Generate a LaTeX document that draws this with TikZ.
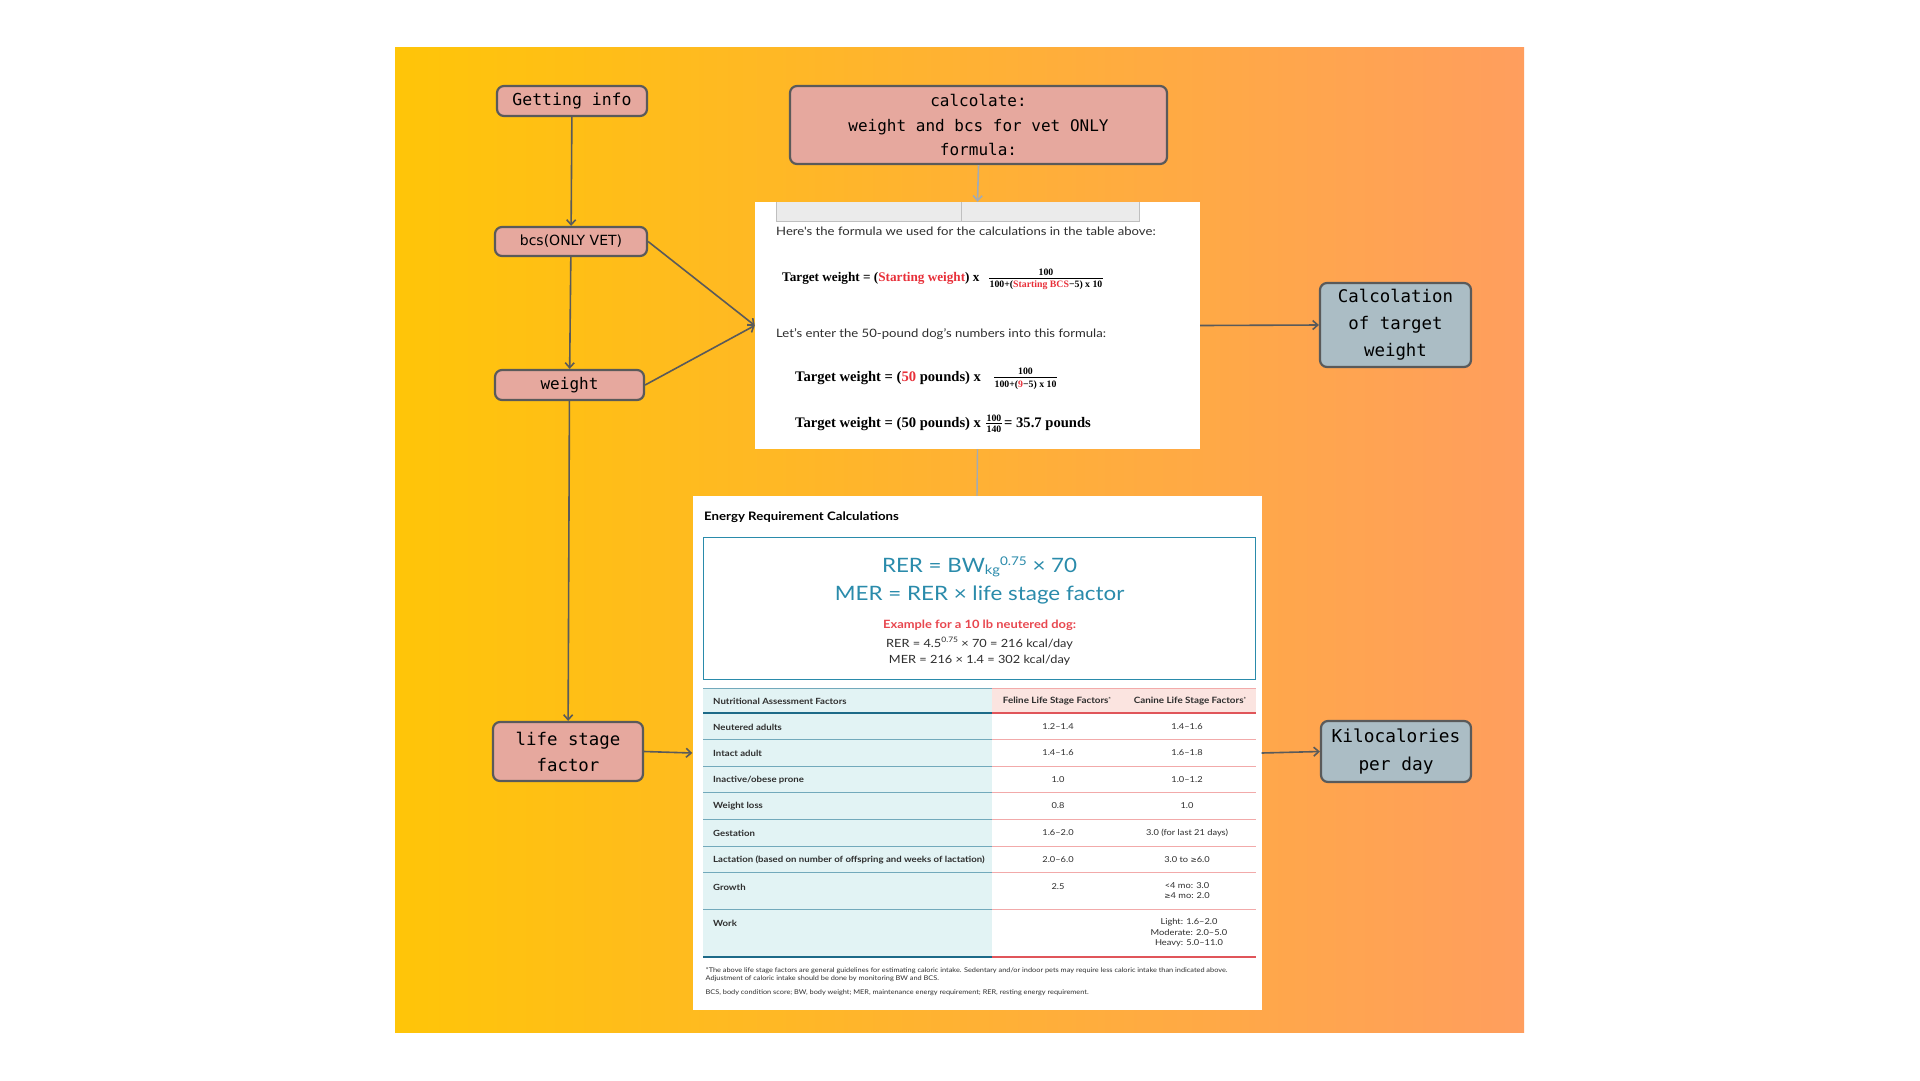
\documentclass[tikz,border=0pt]{standalone}
\usepackage{fontspec}
\usetikzlibrary{arrows.meta}
\newfontfamily\monoW{DejaVu Sans Mono}
\newfontfamily\dvs{DejaVu Sans}
\newfontfamily\lato[FakeStretch=1.13]{Lato}
\newfontfamily\lserif{Liberation Serif}
\definecolor{bgL}{HTML}{FFC508}
\definecolor{bgR}{HTML}{FF9E5E}
\definecolor{pinkF}{HTML}{E6A89E}
\definecolor{blueF}{HTML}{ABBDC5}
\definecolor{edgeC}{HTML}{5A5A5A}
\definecolor{fred}{HTML}{E8303A}
\definecolor{tealC}{HTML}{2A8BAB}
\definecolor{exred}{HTML}{E8474F}
\definecolor{txtC}{HTML}{2E2E2E}
\definecolor{greyC}{HTML}{A3ABB4}
\definecolor{cyanF}{HTML}{E2F3F4}
\definecolor{pinkH}{HTML}{FBE4E0}
\definecolor{tdark}{HTML}{1D6A88}
\definecolor{tlight}{HTML}{72A9BB}
\definecolor{rdark}{HTML}{E0555A}
\definecolor{rlight}{HTML}{F2AAAA}
\tikzset{
  pinkbox/.style={draw=edgeC, line width=2.2pt, fill=pinkF, rounded corners=7pt, inner sep=0pt, align=center},
  bluebox/.style={pinkbox, fill=blueF},
  conn/.style={draw=edgeC, line width=1.6pt, -{Straight Barb[length=5pt,width=9pt]}},
  greyconn/.style={draw=greyC, line width=1.6pt, -{Straight Barb[length=5pt,width=9pt]}},
  greyline/.style={draw=greyC, line width=1.4pt},
  panel/.style={fill=white, draw=none, inner sep=0pt},
  ptxt/.style={inner sep=0pt, text=txtC, font=\lato\fontsize{11.6}{13}\selectfont},
  fsr/.style={inner sep=0pt, text=black, font=\lserif\bfseries\fontsize{13.2}{15}\selectfont},
  fsr2/.style={inner sep=0pt, text=black, font=\lserif\bfseries\fontsize{14.6}{16}\selectfont},
  fsm/.style={inner sep=0pt, text=black, font=\lserif\bfseries\fontsize{9.8}{10}\selectfont},
  tlab/.style={inner sep=0pt, anchor=west, text=txtC, font=\lato\bfseries\fontsize{8.5}{9.5}\selectfont},
  tval/.style={inner sep=0pt, text=txtC, align=center, font=\lato\fontsize{8.2}{10.8}\selectfont},
  foot/.style={inner sep=0pt, anchor=west, text=txtC, font=\lato\fontsize{6.5}{7}\selectfont},
}
\begin{document}
\begin{tikzpicture}[x=1pt,y=-1pt]
\useasboundingbox (0,0) rectangle (1920,1080);
\fill[white] (0,0) rectangle (1920,1080);
\shade[left color=bgL,right color=bgR] (395,47) rectangle (1524,1032);

% ---------- formula panel ----------
\node[panel, minimum width=445pt, minimum height=247pt] (fpanel) at (977.5,325.5) {};
\fill[black!8] (776,202) rectangle (1139,221);
\draw[black!25, line width=0.8pt] (776,202) -- (776,221) -- (1139,221) -- (1139,202);
\draw[black!25, line width=0.8pt] (961,202) -- (961,221);
\node[ptxt, anchor=west] (fl1) at (776,231) {Here's the formula we used for the calculations in the table above:};
\node[fsr, anchor=west] (ft1) at (782,278) {Target weight = (\textcolor{fred}{Starting weight}) x};
\node[fsm, anchor=north] (fd1) at (1046,280.5) {100+(\textcolor{fred}{Starting BCS}−5) x 10};
\node[fsm, anchor=south] (fn1) at (1046,275.5) {100};
\draw[black, line width=0.7pt] ([yshift=2.3pt]fd1.north west) -- ([yshift=2.3pt]fd1.north east);
\node[ptxt, anchor=west] (fl2) at (776,334) {Let’s enter the 50-pound dog’s numbers into this formula:};
\node[fsr2, anchor=west] (ft2) at (795,378) {Target weight = (\textcolor{fred}{50} pounds) x};
\node[fsm, anchor=north] (fd2) at (1025.5,380) {100+(\textcolor{fred}{9}−5) x 10};
\node[fsm, anchor=south] (fn2) at (1025.5,375) {100};
\draw[black, line width=0.7pt] ([yshift=2.3pt]fd2.north west) -- ([yshift=2.3pt]fd2.north east);
\node[fsr2, anchor=west] (ft3) at (795,424) {Target weight = (50 pounds) x};
\node[fsm, anchor=south] (fn3) at (994,421.5) {100};
\node[fsm, anchor=north] (fd3) at (994,426) {140};
\draw[black, line width=0.7pt] ([yshift=2.3pt]fd3.north west) -- ([yshift=2.3pt]fd3.north east);
\node[fsr2, anchor=west] (ft3b) at (1004,424) {= 35.7 pounds};

% ---------- energy panel ----------
\node[panel, minimum width=569pt, minimum height=514pt] (epanel) at (977,753) {};
\node[inner sep=0pt, anchor=west, font=\lato\bfseries\fontsize{11.7}{13}\selectfont] (etitle) at (704,517) {Energy Requirement Calculations};
\draw[tealC, line width=1.2pt] (703.6,537.5) rectangle (1255.6,679.6);
\node[inner sep=0pt, text=tealC, font=\lato\fontsize{19.8}{22}\selectfont] (rer) at (979.6,567)
  {RER = BW\raisebox{-1.5pt}{\fontsize{13}{13}\selectfont kg}\raisebox{7pt}{\fontsize{12}{12}\selectfont 0.75} × 70};
\node[inner sep=0pt, text=tealC, font=\lato\fontsize{19.8}{22}\selectfont] (mer) at (979.6,595) {MER = RER × life stage factor};
\node[inner sep=0pt, text=exred, font=\lato\bfseries\fontsize{11.4}{12}\selectfont] (ex) at (979.6,625) {Example for a 10 lb neutered dog:};
\node[inner sep=0pt, text=txtC, font=\lato\fontsize{11.3}{12}\selectfont] (ex1) at (979.6,643) {RER = 4.5\raisebox{4.5pt}{\fontsize{7.5}{7.5}\selectfont 0.75} × 70 = 216 kcal/day};
\node[inner sep=0pt, text=txtC, font=\lato\fontsize{11.3}{12}\selectfont] (ex2) at (979.6,660) {MER = 216 × 1.4 = 302 kcal/day};

% table backgrounds
\fill[cyanF] (703,688) rectangle (992,957);
\fill[pinkH] (992,688) rectangle (1255.6,713);
\draw[tlight, line width=0.8pt] (703,688) -- (992,688);
\draw[rlight, line width=0.8pt] (992,688) -- (1255.6,688);
\foreach \yy in {739,766,792,819,846,872,909}{
  \draw[tlight, line width=0.8pt] (703,\yy) -- (992,\yy);
  \draw[rlight, line width=0.8pt] (992,\yy) -- (1255.6,\yy);
}
\foreach \yy in {713,957}{
  \draw[tdark, line width=2pt] (703,\yy) -- (992,\yy);
  \draw[rdark, line width=2pt] (992,\yy) -- (1255.6,\yy);
}
\node[tlab] (h1) at (713,701) {Nutritional Assessment Factors};
\node[tval, font=\lato\bfseries\fontsize{8.7}{9.5}\selectfont] (h2) at (1057,701) {Feline Life Stage Factors\raisebox{2.5pt}{\fontsize{5.5}{5.5}\selectfont *}};
\node[tval, font=\lato\bfseries\fontsize{8.7}{9.5}\selectfont] (h3) at (1190,701) {Canine Life Stage Factors\raisebox{2.5pt}{\fontsize{5.5}{5.5}\selectfont *}};
\node[tlab] (r1) at (713,727) {Neutered adults};
\node[tval] (r1f) at (1058,727) {1.2–1.4};
\node[tval] (r1c) at (1187,727) {1.4–1.6};
\node[tlab] (r2) at (713,753) {Intact adult};
\node[tval] (r2f) at (1058,753) {1.4–1.6};
\node[tval] (r2c) at (1187,753) {1.6–1.8};
\node[tlab] (r3) at (713,780) {Inactive/obese prone};
\node[tval] (r3f) at (1058,780) {1.0};
\node[tval] (r3c) at (1187,780) {1.0–1.2};
\node[tlab] (r4) at (713,806) {Weight loss};
\node[tval] (r4f) at (1058,806) {0.8};
\node[tval] (r4c) at (1187,806) {1.0};
\node[tlab] (r5) at (713,833) {Gestation};
\node[tval] (r5f) at (1058,833) {1.6–2.0};
\node[tval] (r5c) at (1187,833) {3.0 (for last 21 days)};
\node[tlab] (r6) at (713,860) {Lactation (based on number of offspring and weeks of lactation)};
\node[tval] (r6f) at (1058,860) {2.0–6.0};
\node[tval] (r6c) at (1187,860) {3.0 to {\dvs\fontsize{7.5}{9}\selectfont ≥}6.0};
\node[tlab] (r7) at (713,887) {Growth};
\node[tval] (r7f) at (1058,887) {2.5};
\node[tval, anchor=north] (r7c) at (1187,882) {<4 mo: 3.0\\{\dvs\fontsize{7.5}{9}\selectfont ≥}4 mo: 2.0};
\node[tlab] (r8) at (713,923) {Work};
\node[tval, anchor=north] (r8c) at (1189,918) {Light: 1.6–2.0\\Moderate: 2.0–5.0\\Heavy: 5.0–11.0};
\node[foot] (ft1n) at (705.5,971) {*The above life stage factors are general guidelines for estimating caloric intake. Sedentary and/or indoor pets may require less caloric intake than indicated above.};
\node[foot] (ft2n) at (705.5,978.5) {Adjustment of caloric intake should be done by monitoring BW and BCS.};
\node[foot] (ft3n) at (705.5,993) {BCS, body condition score; BW, body weight; MER, maintenance energy requirement; RER, resting energy requirement.};

% ---------- flow nodes ----------
\node[pinkbox, minimum width=150pt, minimum height=30pt, font=\monoW\fontsize{16.5}{24.5}\selectfont] (getinfo) at (572,101) {Getting info};
\node[pinkbox, minimum width=377pt, minimum height=78pt, font=\monoW\fontsize{16}{24.5}\selectfont] (calc) at (978.5,125) {calcolate:\\weight and bcs for vet ONLY\\formula:};
\node[pinkbox, minimum width=152pt, minimum height=29pt, font=\dvs\fontsize{14}{16}\selectfont] (bcs) at (571,241.5) {bcs(ONLY VET)};
\node[pinkbox, minimum width=149pt, minimum height=30pt, font=\monoW\fontsize{16}{18}\selectfont] (weight) at (569.5,385) {weight};
\node[pinkbox, minimum width=150pt, minimum height=59pt, font=\monoW\fontsize{17.4}{26}\selectfont] (life) at (568,751.5) {life stage\\factor};
\node[bluebox, minimum width=151pt, minimum height=84pt, font=\monoW\fontsize{17.4}{27}\selectfont] (calctw) at (1395.5,325) {Calcolation\\of target\\weight};
\node[bluebox, minimum width=150pt, minimum height=61pt, font=\monoW\fontsize{17.8}{28}\selectfont] (kcal) at (1396,751.5) {Kilocalories\\per day};

% ---------- connectors ----------
\draw[conn] (getinfo) -- (bcs);
\draw[conn] (bcs) -- (weight);
\draw[conn] (weight) -- (life);
\draw[conn] (bcs.east) -- (fpanel.west);
\draw[conn] (weight.east) -- (fpanel.west);
\draw[conn] (fpanel.east) -- (calctw.west);
\draw[conn] (life.east) -- (epanel.west);
\draw[conn] (epanel.east) -- (kcal.west);
\draw[greyconn] (calc.south) -- (fpanel.north);
\draw[greyline] (fpanel.south) -- (epanel.north);
\end{tikzpicture}
\end{document}
